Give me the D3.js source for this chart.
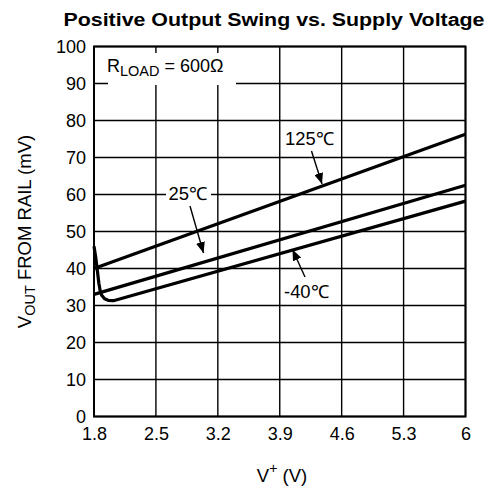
<!DOCTYPE html>
<html><head><meta charset="utf-8">
<script src="https://cdn.jsdelivr.net/npm/d3@7"></script>
<style>body{margin:0;background:#fff}svg{display:block;font-family:"Liberation Sans",Arial,sans-serif}</style>
</head><body><svg id="c" width="494" height="487"></svg>
<script>
const xTicks = [1.8, 2.5, 3.2, 3.9, 4.6, 5.3, 6];
const yTicks = [0, 10, 20, 30, 40, 50, 60, 70, 80, 90, 100];
const series125 = [[1.8, 40], [6, 76.3]];
const series25 = [[1.8, 33], [6, 62.5]];
const seriesM40 = [[1.8, 46], [1.82, 43], [1.837, 39.6], [1.855, 36], [1.87, 34], [1.887, 32.8], [1.92, 31.8], [1.96, 31.4], [2.02, 31.3], [6, 58.2]];

const FONT = "Liberation Sans, Arial, sans-serif";
const svg = d3.select("#c");
const m = {l: 94, r: 465.5, t: 46.5, b: 416.5};
const x = d3.scaleLinear().domain([1.8, 6]).range([m.l, m.r]);
const y = d3.scaleLinear().domain([0, 100]).range([m.b, m.t]);

// grid
svg.append("g").selectAll("line").data(xTicks).join("line")
  .attr("x1", d => x(d)).attr("x2", d => x(d)).attr("y1", m.t).attr("y2", m.b)
  .attr("stroke", "#000").attr("stroke-width", 1.4);
svg.append("g").selectAll("line").data(yTicks).join("line")
  .attr("y1", d => y(d)).attr("y2", d => y(d)).attr("x1", m.l).attr("x2", m.r)
  .attr("stroke", "#000").attr("stroke-width", 1.4);

// tick labels via axes
const ax = svg.append("g").attr("transform", `translate(0,${m.b})`)
  .call(d3.axisBottom(x).tickValues(xTicks).tickSize(0).tickPadding(11).tickFormat(d3.format("")));
ax.select(".domain").remove();
ax.selectAll("text").attr("font-size", 18).attr("fill", "#000").attr("font-family", FONT);
const ay = svg.append("g").attr("transform", `translate(${m.l},0)`)
  .call(d3.axisLeft(y).tickValues(yTicks).tickSize(0).tickPadding(8).tickFormat(d3.format("")));
ay.select(".domain").remove();
ay.selectAll("text").attr("font-size", 18).attr("fill", "#000").attr("font-family", FONT).attr("dy", "0.33em");

// R_LOAD box (covers grid)
svg.append("rect").attr("x", 108).attr("y", 53).attr("width", 128).attr("height", 32).attr("fill", "#fff");

// curves
const line = d3.line().x(d => x(d[0])).y(d => y(d[1]));
[series125, series25, seriesM40].forEach(s => {
  svg.append("path").datum(s).attr("d", line).attr("fill", "none").attr("stroke", "#000")
    .attr("stroke-width", 3.2).attr("stroke-linejoin", "round");
});

// frame
svg.append("rect").attr("x", m.l).attr("y", m.t).attr("width", m.r - m.l).attr("height", m.b - m.t)
  .attr("fill", "none").attr("stroke", "#000").attr("stroke-width", 2);

// arrowhead marker
svg.append("defs").append("marker").attr("id", "ah").attr("viewBox", "0 0 10 10")
  .attr("refX", 10).attr("refY", 5).attr("markerWidth", 11).attr("markerHeight", 9)
  .attr("markerUnits", "userSpaceOnUse").attr("orient", "auto").attr("preserveAspectRatio", "none")
  .append("path").attr("d", "M0,0 L10,5 L0,10 Z").attr("fill", "#000");

function label(txt, x0, base, w, bx, by, bw, bh) {
  svg.append("rect").attr("x", bx).attr("y", by).attr("width", bw).attr("height", bh).attr("fill", "#fff");
  svg.append("text").attr("x", x0).attr("y", base).attr("font-size", 18)
    .attr("textLength", w).attr("lengthAdjust", "spacingAndGlyphs").text(txt);
}
function arrow(x1, y1, x2, y2) {
  svg.append("line").attr("x1", x1).attr("y1", y1).attr("x2", x2).attr("y2", y2)
    .attr("stroke", "#000").attr("stroke-width", 1.4).attr("marker-end", "url(#ah)");
}
label("125℃", 285, 145, 49, 283, 129, 53, 20);
arrow(311.5, 151, 322, 184);
label("25℃", 168.5, 200, 39, 166, 185, 45, 20);
arrow(190, 206, 203.5, 253);
label("-40℃", 284, 298.3, 45, 282.5, 283, 51.5, 20);
arrow(305, 277, 292.5, 249.5);

// R_LOAD text
const rt = svg.append("text").attr("x", 107).attr("y", 71.7).attr("font-size", 18);
rt.append("tspan").text("R");
rt.append("tspan").attr("font-size", 14.5).attr("dy", 4).text("LOAD");
rt.append("tspan").attr("dy", -4).text(" = 600Ω");

// title
svg.append("text").attr("x", 63.5).attr("y", 25.7).attr("font-size", 18.7).attr("font-weight", "bold")
  .attr("textLength", 421).attr("lengthAdjust", "spacingAndGlyphs")
  .text("Positive Output Swing vs. Supply Voltage");

// x axis title
const xt = svg.append("text").attr("x", 282).attr("y", 481.5).attr("text-anchor", "middle").attr("font-size", 18.5);
xt.append("tspan").text("V");
xt.append("tspan").attr("font-size", 14).attr("dy", -9).text("+");
xt.append("tspan").attr("dy", 9).text(" (V)");

// y axis title
const yt = svg.append("text").attr("transform", "translate(30.5,231.5) rotate(-90)").attr("text-anchor", "middle").attr("font-size", 18.5);
yt.append("tspan").text("V");
yt.append("tspan").attr("font-size", 14.5).attr("dy", 4).text("OUT");
yt.append("tspan").attr("dy", -4).text(" FROM RAIL (mV)");
</script></body></html>
